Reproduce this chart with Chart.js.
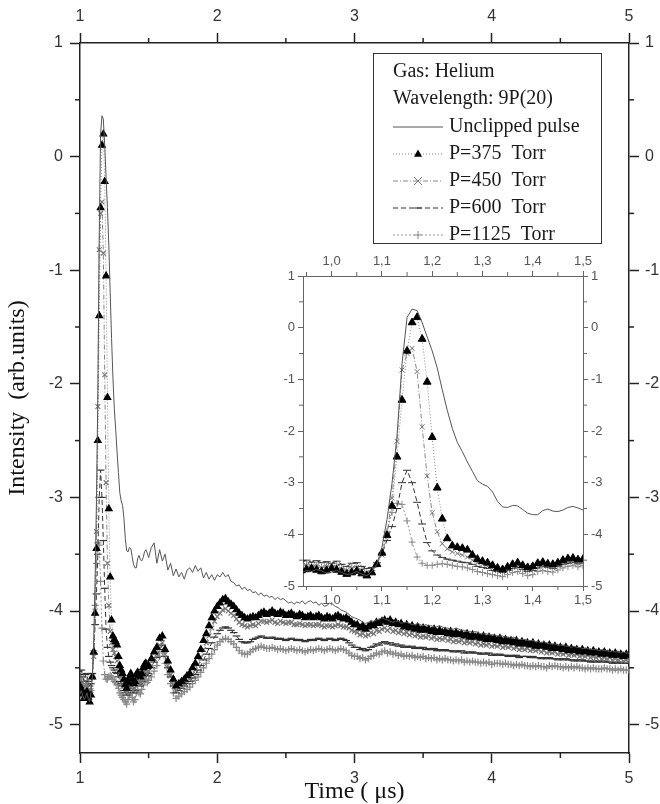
<!DOCTYPE html>
<html>
<head>
<meta charset="utf-8">
<script src="https://cdn.jsdelivr.net/npm/chart.js"></script>
<style>
  body { margin: 0; background: #fff; }
  #wrap { position: relative; width: 660px; height: 804px; }
  #main { position: absolute; left: 0; top: 0; }
  #inset { position: absolute; left: 250px; top: 240px; }
</style>
</head>
<body>
<div id="wrap">
  <canvas id="main" width="660" height="804"></canvas>
  <canvas id="inset" width="380" height="390"></canvas>
</div>
<script>
// sample times (us)
const time = [
  0.94,0.95,0.96,0.97,0.98,0.99,1.00,1.01,1.02,1.03,1.04,1.05,1.06,1.07,1.08,1.09,
  1.10,1.11,1.12,1.13,1.14,1.15,1.16,1.17,1.18,1.19,1.20,1.21,1.22,1.23,1.24,1.25,
  1.26,1.27,1.28,1.29,1.30,1.31,1.32,1.33,1.34,1.35,1.36,1.37,1.38,1.39,1.40,1.41,
  1.42,1.43,1.44,1.45,1.46,1.47,1.48,1.49,1.50,
  1.52,1.54,1.56,1.58,1.60,1.62,1.64,1.66,1.68,1.70,1.72,1.74,1.76,1.78,1.80,1.82,
  1.84,1.86,1.88,1.90,1.92,1.94,1.96,1.98,2.00,2.02,2.04,2.06,2.08,2.10,2.12,2.14,
  2.16,2.18,2.20,2.22,2.24,2.26,2.28,2.30,2.32,2.34,2.36,2.38,2.40,2.42,2.44,2.46,
  2.48,2.50,2.52,2.54,2.56,2.58,2.60,2.62,2.64,2.66,2.68,2.70,2.72,2.74,2.76,2.78,
  2.80,2.82,2.84,2.86,2.88,2.90,2.92,2.94,2.96,2.98,3.00,
  3.02,3.04,3.06,3.08,3.10,3.12,3.14,3.16,3.18,3.20,
  3.22,3.24,3.26,3.28,3.30,3.32,3.34,3.36,3.38,3.40,
  3.42,3.44,3.46,3.48,3.50,3.52,3.54,3.56,3.58,3.60,
  3.62,3.64,3.66,3.68,3.70,3.72,3.74,3.76,3.78,3.80,
  3.82,3.84,3.86,3.88,3.90,3.92,3.94,3.96,3.98,4.00,
  4.02,4.04,4.06,4.08,4.10,4.12,4.14,4.16,4.18,4.20,
  4.22,4.24,4.26,4.28,4.30,4.32,4.34,4.36,4.38,4.40,
  4.42,4.44,4.46,4.48,4.50,4.52,4.54,4.56,4.58,4.60,
  4.62,4.64,4.66,4.68,4.70,4.72,4.74,4.76,4.78,4.80,
  4.82,4.84,4.86,4.88,4.90,4.92,4.94,4.96,4.98,5.00
];

const unclipped = [
  -4.74,-4.70,-4.72,-4.68,-4.71,-4.75,
  -4.73,-4.70,-4.74,-4.78,-4.76,-4.72,-4.77,-4.80,-4.72,-4.58,
  -4.25,-3.72,-3.02,-2.10,-0.70,0.20,0.36,0.33,0.10,-0.18,
  -0.45,-0.78,-1.20,-1.60,-1.95,-2.22,-2.40,-2.60,-2.78,-2.96,
  -3.03,-3.07,-3.18,-3.36,-3.47,-3.48,-3.44,-3.45,-3.52,-3.59,
  -3.62,-3.62,-3.54,-3.51,-3.55,-3.56,-3.53,-3.48,-3.46,-3.49,-3.53,
  -3.44,-3.40,-3.58,-3.46,-3.56,-3.50,-3.64,-3.58,-3.69,-3.63,
  -3.70,-3.66,-3.72,-3.64,-3.62,-3.66,-3.60,-3.65,-3.62,-3.71,
  -3.66,-3.72,-3.68,-3.73,-3.68,-3.70,-3.66,-3.70,-3.68,-3.74,
  -3.75,-3.78,-3.77,-3.81,-3.79,-3.82,-3.81,-3.84,-3.83,-3.86,
  -3.84,-3.87,-3.86,-3.88,-3.87,-3.90,-3.88,-3.90,-3.89,-3.91,
  -3.93,-3.92,-3.94,-3.92,-3.93,-3.91,-3.94,-3.92,-3.91,-3.93,
  -3.92,-3.95,-3.93,-3.96,-3.95,-3.93,-3.94,-3.96,-3.97,-3.99,
  -4.00,-4.01,-4.03,-4.05,-4.06,
  -4.07,-4.08,-4.10,-4.11,-4.10,-4.09,-4.09,-4.08,-4.07,-4.06,
  -4.07,-4.08,-4.09,-4.10,-4.09,-4.09,-4.11,-4.10,-4.10,-4.11,
  -4.12,-4.12,-4.11,-4.12,-4.13,-4.12,-4.13,-4.13,-4.14,-4.14,
  -4.13,-4.14,-4.15,-4.15,-4.16,-4.16,-4.15,-4.16,-4.17,-4.17,
  -4.18,-4.18,-4.19,-4.18,-4.19,-4.20,-4.20,-4.20,-4.21,-4.21,
  -4.21,-4.22,-4.22,-4.22,-4.23,-4.23,-4.24,-4.23,-4.24,-4.25,
  -4.25,-4.25,-4.26,-4.26,-4.26,-4.27,-4.27,-4.28,-4.27,-4.28,
  -4.29,-4.29,-4.29,-4.30,-4.30,-4.30,-4.31,-4.31,-4.32,-4.31,
  -4.32,-4.32,-4.33,-4.33,-4.33,-4.34,-4.34,-4.34,-4.35,-4.34,
  -4.35,-4.35,-4.36,-4.35,-4.36,-4.36,-4.37,-4.36,-4.37,-4.37
];

const p375 = [
  -4.70,-4.68,-4.66,-4.69,-4.72,-4.70,
  -4.66,-4.69,-4.73,-4.77,-4.74,-4.71,-4.76,-4.80,-4.74,-4.58,
  -4.36,-4.02,-3.45,-2.50,-1.40,-0.45,0.10,0.20,-0.22,-1.05,
  -2.12,-3.10,-3.70,-4.08,-4.22,-4.25,-4.27,-4.30,-4.40,-4.48,
  -4.52,-4.55,-4.60,-4.65,-4.68,-4.63,-4.58,-4.55,-4.60,-4.64,
  -4.62,-4.56,-4.54,-4.57,-4.58,-4.55,-4.50,-4.47,-4.46,-4.49,-4.48,
  -4.42,-4.36,-4.32,-4.24,-4.22,-4.34,-4.44,-4.52,-4.60,-4.66,
  -4.64,-4.62,-4.60,-4.57,-4.55,-4.50,-4.46,-4.40,-4.34,-4.26,
  -4.20,-4.13,-4.06,-4.00,-3.96,-3.93,-3.90,-3.89,-3.92,-3.94,
  -3.96,-3.99,-4.02,-4.04,-4.06,-4.07,-4.06,-4.05,-4.06,-4.04,
  -4.02,-4.01,-4.03,-4.02,-4.00,-4.02,-4.03,-4.01,-4.02,-4.04,
  -4.03,-4.02,-4.04,-4.05,-4.03,-4.04,-4.06,-4.05,-4.04,-4.06,
  -4.05,-4.04,-4.06,-4.07,-4.05,-4.06,-4.07,-4.05,-4.04,-4.06,
  -4.07,-4.06,-4.08,-4.10,-4.12,
  -4.12,-4.15,-4.13,-4.16,-4.14,-4.12,-4.13,-4.10,-4.11,-4.09,
  -4.08,-4.10,-4.08,-4.11,-4.10,-4.12,-4.11,-4.14,-4.12,-4.15,
  -4.13,-4.16,-4.14,-4.17,-4.15,-4.17,-4.16,-4.18,-4.16,-4.19,
  -4.17,-4.19,-4.18,-4.20,-4.18,-4.21,-4.19,-4.21,-4.20,-4.22,
  -4.20,-4.23,-4.21,-4.23,-4.22,-4.24,-4.22,-4.25,-4.23,-4.25,
  -4.24,-4.26,-4.24,-4.27,-4.25,-4.27,-4.26,-4.28,-4.26,-4.29,
  -4.27,-4.29,-4.28,-4.30,-4.28,-4.31,-4.29,-4.31,-4.30,-4.32,
  -4.30,-4.33,-4.31,-4.33,-4.32,-4.34,-4.32,-4.35,-4.33,-4.35,
  -4.34,-4.36,-4.34,-4.36,-4.35,-4.37,-4.35,-4.37,-4.36,-4.38,
  -4.36,-4.38,-4.37,-4.39,-4.37,-4.39,-4.38,-4.40,-4.38,-4.39
];

const p450 = [
  -4.62,-4.60,-4.63,-4.61,-4.65,-4.62,
  -4.60,-4.64,-4.68,-4.70,-4.66,-4.64,-4.70,-4.74,-4.70,-4.58,
  -4.40,-4.00,-3.30,-2.20,-0.82,-0.50,-0.40,-0.85,-1.92,-2.87,
  -3.58,-3.95,-4.18,-4.28,-4.34,-4.37,-4.40,-4.44,-4.50,-4.55,
  -4.58,-4.62,-4.66,-4.70,-4.72,-4.68,-4.64,-4.62,-4.66,-4.70,
  -4.68,-4.63,-4.60,-4.62,-4.64,-4.60,-4.56,-4.53,-4.52,-4.55,-4.53,
  -4.48,-4.42,-4.38,-4.30,-4.28,-4.38,-4.48,-4.56,-4.64,-4.70,
  -4.68,-4.66,-4.64,-4.62,-4.60,-4.56,-4.52,-4.47,-4.41,-4.34,
  -4.28,-4.22,-4.15,-4.09,-4.05,-4.02,-3.99,-3.98,-4.00,-4.02,
  -4.04,-4.07,-4.10,-4.12,-4.13,-4.14,-4.13,-4.12,-4.13,-4.11,
  -4.09,-4.09,-4.10,-4.09,-4.08,-4.10,-4.11,-4.09,-4.10,-4.11,
  -4.10,-4.10,-4.12,-4.12,-4.11,-4.12,-4.13,-4.12,-4.12,-4.13,
  -4.12,-4.12,-4.13,-4.14,-4.13,-4.13,-4.14,-4.13,-4.12,-4.13,
  -4.14,-4.14,-4.15,-4.17,-4.18,
  -4.19,-4.21,-4.20,-4.22,-4.21,-4.19,-4.20,-4.17,-4.18,-4.16,
  -4.15,-4.17,-4.15,-4.18,-4.17,-4.19,-4.18,-4.20,-4.19,-4.21,
  -4.20,-4.22,-4.21,-4.23,-4.22,-4.23,-4.22,-4.24,-4.23,-4.25,
  -4.24,-4.25,-4.24,-4.26,-4.25,-4.27,-4.26,-4.27,-4.26,-4.28,
  -4.27,-4.28,-4.27,-4.29,-4.28,-4.30,-4.29,-4.30,-4.29,-4.31,
  -4.30,-4.31,-4.30,-4.32,-4.31,-4.32,-4.31,-4.33,-4.32,-4.34,
  -4.33,-4.34,-4.33,-4.35,-4.34,-4.35,-4.34,-4.36,-4.35,-4.37,
  -4.36,-4.37,-4.36,-4.38,-4.37,-4.38,-4.37,-4.39,-4.38,-4.39,
  -4.38,-4.40,-4.39,-4.40,-4.39,-4.41,-4.40,-4.41,-4.40,-4.42,
  -4.41,-4.42,-4.41,-4.43,-4.42,-4.43,-4.42,-4.44,-4.43,-4.43
];

const p600 = [
  -4.52,-4.50,-4.54,-4.51,-4.55,-4.53,
  -4.56,-4.52,-4.58,-4.62,-4.56,-4.55,-4.62,-4.66,-4.64,-4.55,
  -4.38,-4.12,-3.85,-3.50,-3.00,-2.76,-3.00,-3.38,-3.80,-4.16,
  -4.32,-4.40,-4.45,-4.48,-4.50,-4.52,-4.54,-4.55,-4.58,-4.62,
  -4.64,-4.66,-4.70,-4.72,-4.74,-4.70,-4.66,-4.64,-4.68,-4.72,
  -4.70,-4.65,-4.62,-4.64,-4.66,-4.62,-4.58,-4.56,-4.54,-4.57,-4.55,
  -4.50,-4.45,-4.41,-4.34,-4.30,-4.40,-4.50,-4.58,-4.66,-4.72,
  -4.70,-4.68,-4.66,-4.64,-4.62,-4.59,-4.56,-4.52,-4.48,-4.43,
  -4.38,-4.33,-4.28,-4.23,-4.20,-4.17,-4.15,-4.14,-4.15,-4.17,
  -4.19,-4.22,-4.25,-4.27,-4.28,-4.28,-4.27,-4.25,-4.24,-4.23,
  -4.22,-4.23,-4.24,-4.24,-4.23,-4.24,-4.25,-4.24,-4.25,-4.26,
  -4.25,-4.24,-4.25,-4.26,-4.25,-4.26,-4.27,-4.26,-4.25,-4.26,
  -4.25,-4.24,-4.25,-4.26,-4.25,-4.24,-4.25,-4.26,-4.25,-4.24,
  -4.25,-4.26,-4.28,-4.30,-4.32,
  -4.32,-4.34,-4.33,-4.35,-4.34,-4.32,-4.31,-4.29,-4.30,-4.28,
  -4.27,-4.29,-4.28,-4.30,-4.29,-4.31,-4.30,-4.32,-4.31,-4.32,
  -4.31,-4.33,-4.32,-4.33,-4.32,-4.34,-4.33,-4.34,-4.33,-4.35,
  -4.34,-4.35,-4.34,-4.35,-4.35,-4.36,-4.35,-4.36,-4.35,-4.37,
  -4.36,-4.37,-4.36,-4.37,-4.37,-4.38,-4.37,-4.38,-4.37,-4.39,
  -4.38,-4.39,-4.38,-4.39,-4.39,-4.40,-4.39,-4.40,-4.39,-4.41,
  -4.40,-4.40,-4.40,-4.41,-4.40,-4.41,-4.41,-4.42,-4.41,-4.42,
  -4.41,-4.42,-4.42,-4.43,-4.42,-4.43,-4.42,-4.43,-4.43,-4.44,
  -4.43,-4.44,-4.43,-4.44,-4.44,-4.45,-4.44,-4.45,-4.44,-4.45,
  -4.44,-4.45,-4.45,-4.46,-4.45,-4.46,-4.45,-4.46,-4.46,-4.46
];

const p1125 = [
  -4.60,-4.58,-4.62,-4.60,-4.64,-4.61,
  -4.63,-4.60,-4.66,-4.70,-4.64,-4.62,-4.68,-4.74,-4.70,-4.58,
  -4.35,-3.95,-3.58,-3.40,-3.42,-3.74,-4.15,-4.44,-4.56,-4.60,
  -4.60,-4.58,-4.57,-4.58,-4.60,-4.62,-4.63,-4.65,-4.68,-4.72,
  -4.74,-4.76,-4.78,-4.80,-4.82,-4.78,-4.74,-4.72,-4.76,-4.80,
  -4.78,-4.72,-4.70,-4.72,-4.73,-4.69,-4.65,-4.62,-4.60,-4.63,-4.61,
  -4.58,-4.53,-4.48,-4.40,-4.36,-4.46,-4.56,-4.64,-4.72,-4.77,
  -4.75,-4.73,-4.71,-4.69,-4.67,-4.64,-4.61,-4.58,-4.54,-4.50,
  -4.46,-4.42,-4.38,-4.34,-4.30,-4.27,-4.25,-4.24,-4.25,-4.27,
  -4.29,-4.32,-4.35,-4.37,-4.38,-4.38,-4.36,-4.34,-4.33,-4.32,
  -4.31,-4.32,-4.33,-4.33,-4.32,-4.33,-4.34,-4.33,-4.34,-4.35,
  -4.34,-4.33,-4.34,-4.35,-4.34,-4.35,-4.36,-4.35,-4.34,-4.35,
  -4.34,-4.33,-4.34,-4.35,-4.34,-4.33,-4.34,-4.35,-4.34,-4.33,
  -4.34,-4.35,-4.37,-4.39,-4.40,
  -4.40,-4.42,-4.41,-4.43,-4.42,-4.40,-4.39,-4.37,-4.38,-4.36,
  -4.35,-4.37,-4.36,-4.38,-4.37,-4.39,-4.38,-4.40,-4.39,-4.40,
  -4.39,-4.41,-4.40,-4.41,-4.40,-4.42,-4.41,-4.42,-4.41,-4.43,
  -4.42,-4.43,-4.42,-4.43,-4.43,-4.44,-4.43,-4.44,-4.43,-4.45,
  -4.44,-4.45,-4.44,-4.45,-4.45,-4.46,-4.45,-4.46,-4.45,-4.47,
  -4.46,-4.46,-4.46,-4.47,-4.46,-4.47,-4.47,-4.48,-4.47,-4.48,
  -4.47,-4.48,-4.48,-4.49,-4.48,-4.49,-4.48,-4.49,-4.49,-4.50,
  -4.48,-4.49,-4.48,-4.49,-4.49,-4.50,-4.49,-4.50,-4.49,-4.50,
  -4.49,-4.50,-4.50,-4.51,-4.50,-4.51,-4.50,-4.51,-4.51,-4.51,
  -4.50,-4.51,-4.51,-4.52,-4.51,-4.52,-4.51,-4.52,-4.52,-4.52
];

const seriesNames = ['Unclipped pulse', 'P=375  Torr', 'P=450  Torr', 'P=600  Torr', 'P=1125  Torr'];
const legendHeader = ['Gas: Helium', 'Wavelength: 9P(20)'];
const xTitle = 'Time ( μs)';
const yTitle = 'Intensity  (arb.units)';

// tick values
const mainXTicks = [1, 2, 3, 4, 5];
const mainXMinor = [1.5, 2.5, 3.5, 4.5];
const mainYTicks = [1, 0, -1, -2, -3, -4, -5];
const mainYMinor = [0.5, -0.5, -1.5, -2.5, -3.5, -4.5];
const insetXTicks = [1.0, 1.1, 1.2, 1.3, 1.4, 1.5];
const insetXMinor = [0.95, 1.05, 1.15, 1.25, 1.35, 1.45];

const seriesValues = [unclipped, p375, p450, p600, p1125];
const styles = [
  { line: '#555', dash: [], marker: null },
  { line: '#888', dash: [1, 2], marker: 'triangle', fill: '#000', stroke: '#000', r: 3.8, rBig: 4.5 },
  { line: '#888', dash: [5, 2, 1, 2], marker: 'crossRot', fill: 'rgba(0,0,0,0)', stroke: '#777', r: 3.4, rBig: 3.5 },
  { line: '#333', dash: [5, 3], marker: 'line', fill: 'rgba(0,0,0,0)', stroke: '#333', r: 3.8, rBig: 4 },
  { line: '#999', dash: [2, 2], marker: 'cross', fill: 'rgba(0,0,0,0)', stroke: '#888', r: 3.6, rBig: 3.5 }
];

const SERIF = '"Liberation Serif", "Times New Roman", serif';
const SANS = '"Liberation Sans", Arial, sans-serif';

function makeDatasets(big) {
  return styles.map((st, i) => ({
    label: seriesNames[i],
    data: time.map((t, k) => ({ x: t, y: seriesValues[i][k] })),
    borderColor: st.line,
    borderWidth: 1,
    borderDash: st.dash,
    pointStyle: st.marker || 'circle',
    pointRadius: st.marker ? (big ? st.rBig : st.r) : 0,
    pointBackgroundColor: st.fill,
    pointBorderColor: st.stroke,
    pointBorderWidth: big ? 1 : 1.2,
    tension: 0,
    fill: false
  }));
}

// short ticks between the labelled ones
const minorTicks = {
  id: 'minorTicks',
  afterDraw(chart, args, opts) {
    const ctx = chart.ctx;
    ctx.save();
    ctx.strokeStyle = opts.color;
    ctx.lineWidth = opts.width;
    for (const id in opts.axes) {
      const s = chart.scales[id];
      opts.axes[id].forEach(v => {
        const p = s.getPixelForValue(v);
        ctx.beginPath();
        if (s.isHorizontal()) {
          const y0 = s.position === 'top' ? s.bottom : s.top;
          const dir = s.position === 'top' ? -1 : 1;
          ctx.moveTo(p, y0); ctx.lineTo(p, y0 + dir * opts.len);
        } else {
          const x0 = s.position === 'left' ? s.right : s.left;
          const dir = s.position === 'left' ? -1 : 1;
          ctx.moveTo(x0, p); ctx.lineTo(x0 + dir * opts.len, p);
        }
        ctx.stroke();
      });
    }
    ctx.restore();
  }
};

function drawMarker(ctx, style, x, y, r) {
  ctx.beginPath();
  if (style === 'triangle') {
    ctx.moveTo(x, y - r * 1.1);
    ctx.lineTo(x + r, y + r * 0.7);
    ctx.lineTo(x - r, y + r * 0.7);
    ctx.closePath();
    ctx.fill();
  } else if (style === 'crossRot') {
    ctx.moveTo(x - r, y - r); ctx.lineTo(x + r, y + r);
    ctx.moveTo(x - r, y + r); ctx.lineTo(x + r, y - r);
    ctx.stroke();
  } else if (style === 'line') {
    ctx.moveTo(x - r, y); ctx.lineTo(x + r, y);
    ctx.stroke();
  } else if (style === 'cross') {
    ctx.moveTo(x - r, y); ctx.lineTo(x + r, y);
    ctx.moveTo(x, y - r); ctx.lineTo(x, y + r);
    ctx.stroke();
  }
}

const legendBox = {
  id: 'legendBox',
  afterDraw(chart) {
    const ctx = chart.ctx;
    ctx.save();
    ctx.strokeStyle = '#333';
    ctx.lineWidth = 1;
    ctx.strokeRect(373.5, 53.5, 228, 190);
    ctx.font = '20px ' + SERIF;
    ctx.fillStyle = '#1a1a1a';
    ctx.textBaseline = 'middle';
    ctx.fillText(legendHeader[0], 393, 72);
    ctx.fillText(legendHeader[1], 393, 99);
    styles.forEach((st, i) => {
      const y = 127 + i * 27;
      ctx.strokeStyle = st.line;
      ctx.lineWidth = 1;
      ctx.setLineDash(st.dash);
      ctx.beginPath();
      ctx.moveTo(393, y); ctx.lineTo(443, y);
      ctx.stroke();
      ctx.setLineDash([]);
      if (st.marker) {
        ctx.fillStyle = st.fill;
        ctx.strokeStyle = st.stroke;
        drawMarker(ctx, st.marker, 418, y, 4);
      }
      ctx.fillStyle = '#1a1a1a';
      ctx.fillText(seriesNames[i], 449, y);
    });
    ctx.restore();
  }
};

function axis(opts) {
  const o = {
    type: 'linear',
    axis: opts.axis,
    position: opts.position,
    min: opts.min,
    max: opts.max,
    afterBuildTicks: s => { s.ticks = opts.ticks.map(v => ({ value: v })); },
    afterFit: s => {
      if (opts.axis === 'x') s.height = opts.size; else s.width = opts.size;
    },
    grid: {
      drawOnChartArea: false,
      drawTicks: true,
      tickLength: opts.tickLength,
      tickColor: opts.color,
      tickWidth: opts.lineWidth,
      color: opts.color
    },
    border: { display: true, color: opts.color, width: opts.lineWidth },
    ticks: {
      autoSkip: false,
      maxRotation: 0,
      padding: opts.pad,
      color: opts.labelColor,
      font: { family: SANS, size: opts.fontSize },
      callback: opts.format
    }
  };
  if (opts.title) {
    o.title = {
      display: true,
      text: opts.title,
      color: '#111',
      font: { family: SERIF, size: 24, lineHeight: 1 },
      padding: opts.titlePad
    };
  }
  return o;
}

const plainFmt = v => String(v);
const commaFmt = v => v.toFixed(1).replace('.', ',');

new Chart(document.getElementById('main'), {
  type: 'line',
  data: { datasets: makeDatasets(false) },
  options: {
    responsive: false,
    animation: false,
    events: [],
    layout: { padding: 0 },
    plugins: {
      legend: { display: false },
      tooltip: { enabled: false },
      minorTicks: { color: '#222', width: 1.5, len: 5,
        axes: { x: mainXMinor, x2: mainXMinor, y: mainYMinor, y2: mainYMinor } }
    },
    scales: {
      x: axis({ axis: 'x', position: 'bottom', min: 1, max: 5, ticks: mainXTicks, size: 51,
        tickLength: 10, color: '#222', lineWidth: 1.5, pad: 6, labelColor: '#333', fontSize: 16,
        format: plainFmt, title: xTitle, titlePad: { top: 0, bottom: 0 } }),
      x2: axis({ axis: 'x', position: 'top', min: 1, max: 5, ticks: mainXTicks, size: 43,
        tickLength: 10, color: '#222', lineWidth: 1.5, pad: 7, labelColor: '#333', fontSize: 16,
        format: plainFmt }),
      y: axis({ axis: 'y', position: 'left', min: -5.25, max: 1, ticks: mainYTicks, size: 80,
        tickLength: 10, color: '#222', lineWidth: 1.5, pad: 7, labelColor: '#333', fontSize: 16,
        format: plainFmt, title: yTitle, titlePad: { top: 6, bottom: 0 } }),
      y2: axis({ axis: 'y', position: 'right', min: -5.25, max: 1, ticks: mainYTicks, size: 31,
        tickLength: 10, color: '#222', lineWidth: 1.5, pad: 6, labelColor: '#333', fontSize: 16,
        format: plainFmt })
    }
  },
  plugins: [minorTicks, legendBox]
});

new Chart(document.getElementById('inset'), {
  type: 'line',
  data: { datasets: makeDatasets(true) },
  options: {
    responsive: false,
    animation: false,
    events: [],
    layout: { padding: 0 },
    plugins: {
      legend: { display: false },
      tooltip: { enabled: false },
      minorTicks: { color: '#666', width: 1, len: 4,
        axes: { x: insetXMinor, x2: insetXMinor, y: mainYMinor, y2: mainYMinor } }
    },
    scales: {
      x: axis({ axis: 'x', position: 'bottom', min: 0.943, max: 1.5, ticks: insetXTicks, size: 44,
        tickLength: 5, color: '#666', lineWidth: 1, pad: 2, labelColor: '#555', fontSize: 13,
        format: commaFmt }),
      x2: axis({ axis: 'x', position: 'top', min: 0.943, max: 1.5, ticks: insetXTicks, size: 36,
        tickLength: 5, color: '#666', lineWidth: 1, pad: 2, labelColor: '#555', fontSize: 13,
        format: commaFmt }),
      y: axis({ axis: 'y', position: 'left', min: -5, max: 1, ticks: mainYTicks, size: 53,
        tickLength: 5, color: '#666', lineWidth: 1, pad: 3, labelColor: '#555', fontSize: 13,
        format: plainFmt }),
      y2: axis({ axis: 'y', position: 'right', min: -5, max: 1, ticks: mainYTicks, size: 47,
        tickLength: 5, color: '#666', lineWidth: 1, pad: 3, labelColor: '#555', fontSize: 13,
        format: plainFmt })
    }
  },
  plugins: [minorTicks]
});
</script>
</body>
</html>
